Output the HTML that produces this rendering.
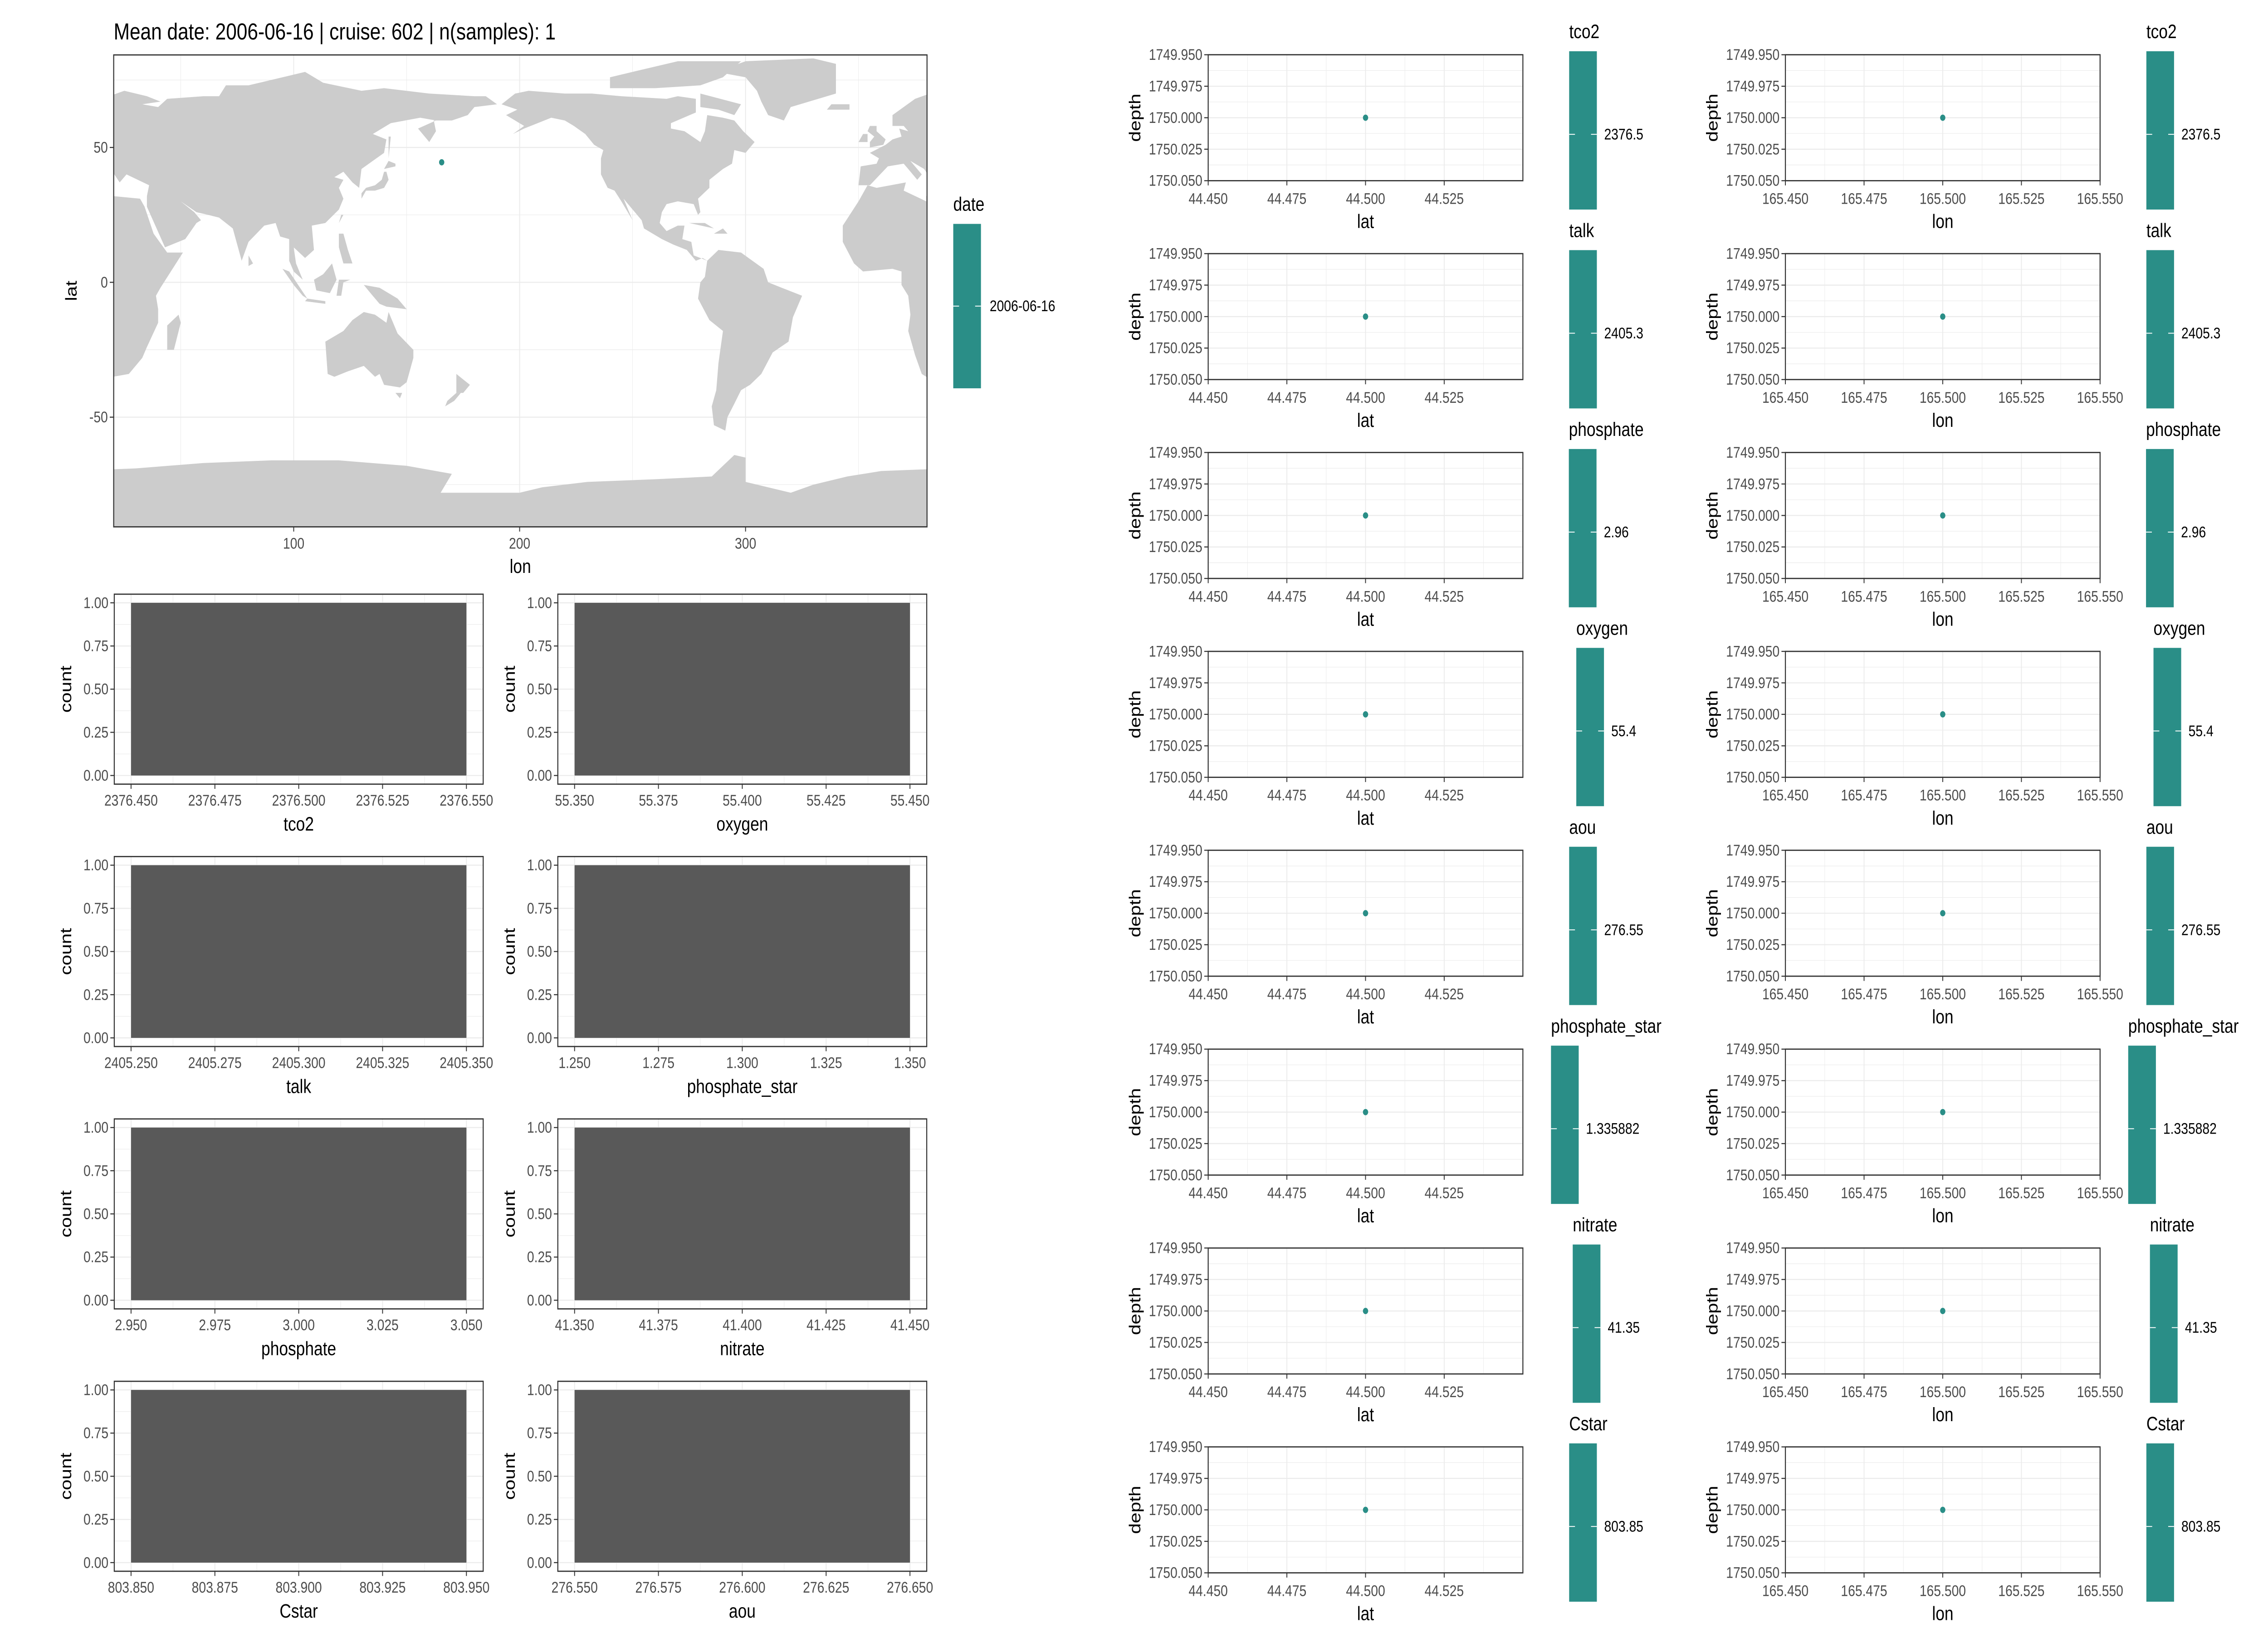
<!DOCTYPE html>
<html><head><meta charset="utf-8"><style>
html,body{margin:0;padding:0;background:#fff;width:100%;height:100%;overflow:hidden;}
svg{display:block;font-family:"Liberation Sans",sans-serif;width:100vw;height:100vh;}
</style></head>
<body>
<svg id="fig" xmlns="http://www.w3.org/2000/svg" viewBox="0 0 1556 933.6" preserveAspectRatio="none">
<rect x="0" y="0" width="1556" height="933.6" fill="#fff"/>
</svg>
<script>
// ---- data ----
const mapPointLon = [165.5];
const mapPointLat = [44.5];
const mapDateLabel = ['2006-06-16'];
const histVars = ['tco2','oxygen','talk','phosphate_star','phosphate','nitrate','Cstar','aou'];
const histCenters = [2376.5, 55.4, 2405.3, 1.3, 3.0, 41.4, 803.9, 276.6];
const histCounts = [1,1,1,1,1,1,1,1];
const histCountTicks = [0, 0.25, 0.5, 0.75, 1.0];
const scatterVars = ['tco2','talk','phosphate','oxygen','aou','phosphate_star','nitrate','Cstar'];
const scatterLabels = ['2376.5','2405.3','2.96','55.4','276.55','1.335882','41.35','803.85'];
const pointLat = [44.5];
const pointLon = [165.5];
const pointDepth = [1750.0];
const depthTicks = [1749.95, 1749.975, 1750.0, 1750.025, 1750.05];
const latTicks = [44.45, 44.475, 44.5, 44.525];
const lonTicks = [165.45, 165.475, 165.5, 165.525, 165.55];

const NS = 'http://www.w3.org/2000/svg';
const svg = document.getElementById('fig');
const TEAL = '#2A8E87';
function mk(tag, attrs, parent) {
  const e = document.createElementNS(NS, tag);
  for (const k in attrs) e.setAttribute(k, attrs[k]);
  (parent || svg).appendChild(e);
  return e;
}
function txt(s, x, y, size, color, anchor, parent, rot) {
  const t = mk('text', {x: x, y: y, 'font-size': size, fill: color, 'text-anchor': anchor, 'dominant-baseline': 'central'}, parent);
  if (rot) t.setAttribute('transform', 'rotate(-90 ' + x + ' ' + y + ')');
  t.textContent = s;
  return t;
}
function lin(d0, d1, r0, r1) { return v => r0 + (v - d0) / (d1 - d0) * (r1 - r0); }

// ---- title ----
const title = txt('Mean date: 2006-06-16 | cruise: 602 | n(samples): 1', 78, 18, 13.2, '#000', 'start');



// ---- map ----
const mapG = mk('g', {});


const MX0 = 78, MX1 = 636, MY0 = 31.4, MY1 = 301.2;
const mx = lin(100, 200, 201.5, 356.5);
const my = lin(0, 50, 161.4, 84.3);
mk('clipPath', {id: 'mapclip'}, mapG);
mk('rect', {x: MX0, y: MY0, width: MX1 - MX0, height: MY1 - MY0}, document.getElementById('mapclip'));
mk('rect', {x: MX0, y: MY0, width: MX1 - MX0, height: MY1 - MY0, fill: '#fff'}, mapG);
[-75, -25, 25, 75].forEach(v => mk('line', {x1: MX0, x2: MX1, y1: my(v), y2: my(v), stroke: '#EBEBEB', 'stroke-width': 0.3}, mapG));
[50, 150, 250, 350].forEach(v => mk('line', {y1: MY0, y2: MY1, x1: mx(v), x2: mx(v), stroke: '#EBEBEB', 'stroke-width': 0.3}, mapG));
[-50, 0, 50].forEach(v => mk('line', {x1: MX0, x2: MX1, y1: my(v), y2: my(v), stroke: '#EBEBEB', 'stroke-width': 0.6}, mapG));
[100, 200, 300].forEach(v => mk('line', {y1: MY0, y2: MY1, x1: mx(v), x2: mx(v), stroke: '#EBEBEB', 'stroke-width': 0.6}, mapG));
const land = [
 [[-10,36],[-5,36],[3,43],[10,44],[12,42],[16,38],[18,40],[13,45],[19,42],[23,37],[26,40],[36,36],[35,32],[35,28],[43,13],[52,16],[57,22],[59,23],[56,26],[50,30],[57,26],[62,25],[67,24],[73,20],[77,8],[80,15],[87,21],[92,22],[94,17],[98,16],[98,8],[100,4],[104,1],[101,7],[100,13],[105,9],[109,12],[108,21],[114,22],[120,27],[122,31],[120,35],[122,38],[118,39],[122,41],[126,37],[129,35],[130,42],[140,48],[141,53],[135,55],[143,59],[156,61],[163,60],[155,57],[160,52],[163,56],[162,60],[170,60],[177,62],[180,65],[190,66],[185,69],[180,69],[160,70],[140,72],[130,71],[113,74],[105,78],[95,76],[80,73],[70,73],[67,69],[60,69],[44,68],[40,65],[33,66],[41,67],[35,69],[25,71],[15,68],[5,62],[5,58],[10,58],[12,56],[8,57],[9,54],[5,53],[2,51],[-5,48],[-1,46],[-2,44],[-9,43]],
 [[-17,21],[-17,15],[-12,7],[-8,4],[5,5],[9,4],[9,-1],[12,-5],[13,-12],[12,-18],[15,-27],[18,-34],[20,-35],[27,-34],[33,-28],[35,-24],[40,-15],[40,-10],[39,-5],[41,-2],[51,11],[44,11],[38,18],[34,28],[32,31],[20,32],[20,30],[10,34],[11,37],[-2,35],[-6,36],[-10,30]],
 [[44,-25],[47,-25],[50,-15],[49,-12],[44,-16]],
 [[114,-22],[115,-34],[118,-35],[124,-33],[131,-31],[136,-35],[138,-34],[140,-38],[147,-39],[150,-37],[153,-28],[153,-25],[146,-19],[142,-11],[141,-15],[136,-12],[131,-11],[126,-14],[122,-18]],
 [[145,-41],[148,-41],[147,-43]],
 [[172,-34],[178,-38],[175,-41],[172,-41]],
 [[172,-41],[174,-41],[171,-44],[167,-46],[168,-44]],
 [[130,31],[132,34],[136,34],[140,35],[142,38],[141,41],[140,41],[139,38],[136,36],[132,35],[130,33]],
 [[140,42],[145,43],[145,44],[142,45]],
 [[142,46],[143,54],[142,54]],
 [[109,1],[110,-3],[116,-4],[119,1],[117,7],[113,3]],
 [[95,5],[98,4],[106,-6],[104,-5],[100,-1]],
 [[105,-7],[114,-8],[114,-7],[106,-6]],
 [[119,-5],[121,-5],[122,0],[125,1],[120,1]],
 [[131,-1],[138,-2],[146,-6],[150,-10],[141,-9],[138,-8],[134,-4]],
 [[120,18],[122,18],[124,12],[126,7],[122,7],[120,13]],
 [[120,22],[122,25],[121,25]],
 [[80,6],[82,7],[80,10]],
 [[-5,50],[1,51],[2,53],[-2,56],[-2,58],[-5,58],[-6,56],[-3,54],[-5,52]],
 [[-10,52],[-6,52],[-6,55],[-8,55]],
 [[-24,64],[-14,64],[-14,66],[-22,66]],
 [[-73,78],[-60,82],[-30,83],[-20,81],[-20,70],[-40,65],[-43,60],[-50,62],[-53,67],[-55,71],[-60,76]],
 [[-168,66],[-162,70],[-156,71],[-140,70],[-128,70],[-115,69],[-95,68],[-90,69],[-82,68],[-82,63],[-93,59],[-93,57],[-87,56],[-80,52],[-78,56],[-77,62],[-70,61],[-65,60],[-61,56],[-56,52],[-60,48],[-65,49],[-66,44],[-70,42],[-76,38],[-76,35],[-81,31],[-80,26],[-81,25],[-83,29],[-90,30],[-95,29],[-97,26],[-98,22],[-95,19],[-90,21],[-87,21],[-88,16],[-84,15],[-83,10],[-80,9],[-77,8],[-79,9],[-82,8],[-86,12],[-92,14],[-97,16],[-105,20],[-106,23],[-112,29],[-114,31],[-110,23],[-115,30],[-118,34],[-121,35],[-124,40],[-124,46],[-123,49],[-127,51],[-131,55],[-136,58],[-140,60],[-146,61],[-152,59],[-158,57],[-163,55],[-158,58],[-162,60],[-166,62],[-161,64]],
 [[-120,72],[-100,72],[-80,73],[-70,76],[-62,82],[-90,82],[-110,78],[-120,76]],
 [[-80,70],[-62,66],[-65,62],[-72,64],[-80,65]],
 [[-85,22],[-74,20],[-78,22]],
 [[-74,18],[-68,18],[-70,20]],
 [[-77,8],[-72,12],[-62,11],[-52,5],[-50,0],[-44,-2],[-35,-5],[-39,-13],[-41,-22],[-48,-26],[-53,-34],[-58,-38],[-62,-40],[-65,-45],[-68,-50],[-69,-55],[-74,-53],[-75,-46],[-73,-40],[-72,-30],[-70,-18],[-76,-14],[-81,-6],[-80,0],[-78,2]],
 [[0,-70],[30,-69],[60,-67],[90,-66],[120,-66],[150,-68],[170,-71],[165,-78],[180,-78],[200,-78],[210,-76],[230,-74],[260,-73],[285,-72],[295,-64],[300,-65],[300,-74],[320,-78],[330,-75],[345,-72],[360,-70],[360,-95],[0,-95]]
];
const landG = mk('g', {'clip-path': 'url(#mapclip)'}, mapG);
land.forEach(poly => {
  [-360, 0, 360, 720].forEach(off => {
    const pts = poly.map(p => mx(p[0] + off).toFixed(1) + ',' + my(p[1]).toFixed(1)).join(' ');
    const pg = mk('polygon', {points: pts, fill: '#CCCCCC'}, landG);
    
    
  });
});
mapPointLon.forEach((lo, i) => {
  const c = mk('circle', {cx: mx(lo), cy: my(mapPointLat[i]), r: 1.8, fill: TEAL}, mapG);
  
  
});
mk('rect', {x: MX0, y: MY0, width: MX1 - MX0, height: MY1 - MY0, fill: 'none', stroke: '#333', 'stroke-width': 0.7}, mapG);
[-50, 0, 50].forEach(v => {
  mk('line', {x1: MX0 - 2.7, x2: MX0, y1: my(v), y2: my(v), stroke: '#333', 'stroke-width': 0.6}, mapG);
  const t = txt(String(v), MX0 - 4, my(v), 8.8, '#4D4D4D', 'end', mapG);
  
  
});
[100, 200, 300].forEach(v => {
  mk('line', {x1: mx(v), x2: mx(v), y1: MY1, y2: MY1 + 2.7, stroke: '#333', 'stroke-width': 0.6}, mapG);
  const t = txt(String(v), mx(v), MY1 + 9.5, 8.8, '#4D4D4D', 'middle', mapG);
  
  
});
const mxt = txt('lon', (MX0 + MX1) / 2, 324, 11, '#000', 'middle', mapG);


const myt = txt('lat', 49, (MY0 + MY1) / 2, 11, '#000', 'middle', mapG, true);


// date legend
const dl = mk('g', {});


txt('date', 654, 117, 11, '#000', 'start', dl);
mk('rect', {x: 654, y: 128, width: 19, height: 94, fill: TEAL}, dl);
mk('line', {x1: 654, x2: 658, y1: 175, y2: 175, stroke: '#fff', 'stroke-width': 0.5}, dl);
mk('line', {x1: 669, x2: 673, y1: 175, y2: 175, stroke: '#fff', 'stroke-width': 0.5}, dl);
txt(mapDateLabel[0], 679, 175, 8.8, '#000', 'start', dl);

// ---- histograms ----
const hColX = [[78.4, 331.5], [382.7, 635.8]];
histVars.forEach((name, i) => {
  const col = i % 2, row = Math.floor(i / 2);
  const x0 = hColX[col][0], x1 = hColX[col][1];
  const y0 = 339.7 + row * 150, y1 = y0 + 108.6;
  const g = mk('g', {});
  
  
  const c = histCenters[i];
  const xs = lin(c - 0.055, c + 0.055, x0, x1);
  const ys = lin(-0.05, 1.05, y1, y0);
  const ticks = [0, 1, 2, 3, 4].map(k => c - 0.05 + k * 0.025);
  for (let k = 0; k < 4; k++) {
    const m = (ticks[k] + ticks[k + 1]) / 2;
    mk('line', {x1: xs(m), x2: xs(m), y1: y0, y2: y1, stroke: '#EBEBEB', 'stroke-width': 0.3}, g);
  }
  for (let k = 0; k < 4; k++) {
    const m = (histCountTicks[k] + histCountTicks[k + 1]) / 2;
    mk('line', {x1: x0, x2: x1, y1: ys(m), y2: ys(m), stroke: '#EBEBEB', 'stroke-width': 0.3}, g);
  }
  ticks.forEach(t => mk('line', {x1: xs(t), x2: xs(t), y1: y0, y2: y1, stroke: '#EBEBEB', 'stroke-width': 0.6}, g));
  histCountTicks.forEach(t => mk('line', {x1: x0, x2: x1, y1: ys(t), y2: ys(t), stroke: '#EBEBEB', 'stroke-width': 0.6}, g));
  const bar = mk('rect', {x: xs(c - 0.05), y: ys(histCounts[i]), width: xs(c + 0.05) - xs(c - 0.05), height: ys(0) - ys(histCounts[i]), fill: '#595959'}, g);
  
  
  mk('rect', {x: x0, y: y0, width: x1 - x0, height: y1 - y0, fill: 'none', stroke: '#333', 'stroke-width': 0.7}, g);
  histCountTicks.forEach(t => {
    mk('line', {x1: x0 - 2.7, x2: x0, y1: ys(t), y2: ys(t), stroke: '#333', 'stroke-width': 0.6}, g);
    const tl = txt(t.toFixed(2), x0 - 4, ys(t), 8.8, '#4D4D4D', 'end', g);
    
    
  });
  ticks.forEach(t => {
    mk('line', {x1: xs(t), x2: xs(t), y1: y1, y2: y1 + 2.7, stroke: '#333', 'stroke-width': 0.6}, g);
    const tl = txt(t.toFixed(3), xs(t), y1 + 9.3, 8.8, '#4D4D4D', 'middle', g);
    
    
  });
  const xt = txt(name, (x0 + x1) / 2, y1 + 23, 11, '#000', 'middle', g);
  
  
  const yt = txt('count', x0 - 33, (y0 + y1) / 2, 11, '#000', 'middle', g, true);
  
  
});

// ---- scatter panels ----
const sCols = [
  {x0: 828.9, x1: 1044.8, d0: 44.45, d1: 44.55, ticks: latTicks, vals: pointLat, title: 'lat', lc: 1102},
  {x0: 1224.9, x1: 1440.8, d0: 165.45, d1: 165.55, ticks: lonTicks, vals: pointLon, title: 'lon', lc: 1498}
];
scatterVars.forEach((name, r) => {
  sCols.forEach((C, ci) => {
    const y0 = 31.3 + r * 113.7, y1 = y0 + 72;
    const g = mk('g', {});
    
    
    const xs = lin(C.d0, C.d1, C.x0, C.x1);
    const ys = lin(depthTicks[0], depthTicks[4], y0, y1);
    const xt = [C.d0, C.d0 + 0.025, C.d0 + 0.05, C.d0 + 0.075, C.d1];
    for (let k = 0; k < 4; k++) {
      const m = (xt[k] + xt[k + 1]) / 2;
      mk('line', {x1: xs(m), x2: xs(m), y1: y0, y2: y1, stroke: '#EBEBEB', 'stroke-width': 0.3}, g);
      const n = (depthTicks[k] + depthTicks[k + 1]) / 2;
      mk('line', {x1: C.x0, x2: C.x1, y1: ys(n), y2: ys(n), stroke: '#EBEBEB', 'stroke-width': 0.3}, g);
    }
    xt.forEach(t => mk('line', {x1: xs(t), x2: xs(t), y1: y0, y2: y1, stroke: '#EBEBEB', 'stroke-width': 0.6}, g));
    depthTicks.forEach(t => mk('line', {x1: C.x0, x2: C.x1, y1: ys(t), y2: ys(t), stroke: '#EBEBEB', 'stroke-width': 0.6}, g));
    C.vals.forEach((v, i) => {
      const p = mk('circle', {cx: xs(v), cy: ys(pointDepth[i]), r: 1.8, fill: TEAL}, g);
      
      
    });
    mk('rect', {x: C.x0, y: y0, width: C.x1 - C.x0, height: y1 - y0, fill: 'none', stroke: '#333', 'stroke-width': 0.7}, g);
    depthTicks.forEach(t => {
      mk('line', {x1: C.x0 - 2.7, x2: C.x0, y1: ys(t), y2: ys(t), stroke: '#333', 'stroke-width': 0.6}, g);
      const tl = txt(t.toFixed(3), C.x0 - 4, ys(t), 8.8, '#4D4D4D', 'end', g);
      
      
    });
    C.ticks.forEach(t => {
      mk('line', {x1: xs(t), x2: xs(t), y1: y1, y2: y1 + 2.7, stroke: '#333', 'stroke-width': 0.6}, g);
      const tl = txt(t.toFixed(3), xs(t), y1 + 10.3, 8.8, '#4D4D4D', 'middle', g);
      
      
    });
    const at = txt(C.title, (C.x0 + C.x1) / 2, y1 + 23.5, 11, '#000', 'middle', g);
    
    
    const dt = txt('depth', C.x0 - 50, (y0 + y1) / 2, 11, '#000', 'middle', g, true);
    
    
    // legend
    const lg = mk('g', {});
    
    
    const tt = txt(name, 0, y0 - 13, 11, '#000', 'start', lg);
    const lt = txt(scatterLabels[r], 0, y0 + 45.5, 8.8, '#000', 'start', lg);
    const tw = tt.getComputedTextLength(), lw = lt.getComputedTextLength();
    const w = Math.max(tw, 19 + 5 + lw);
    const left = C.lc - w / 2;
    tt.setAttribute('x', left);
    lt.setAttribute('x', left + 24);
    const bar = mk('rect', {x: left, y: y0 - 2, width: 19, height: 90.5, fill: TEAL}, lg);
    
    
    mk('line', {x1: left, x2: left + 4, y1: y0 + 45.5, y2: y0 + 45.5, stroke: '#fff', 'stroke-width': 0.5}, lg);
    mk('line', {x1: left + 15, x2: left + 19, y1: y0 + 45.5, y2: y0 + 45.5, stroke: '#fff', 'stroke-width': 0.5}, lg);
  });
});
</script>
</body></html>
